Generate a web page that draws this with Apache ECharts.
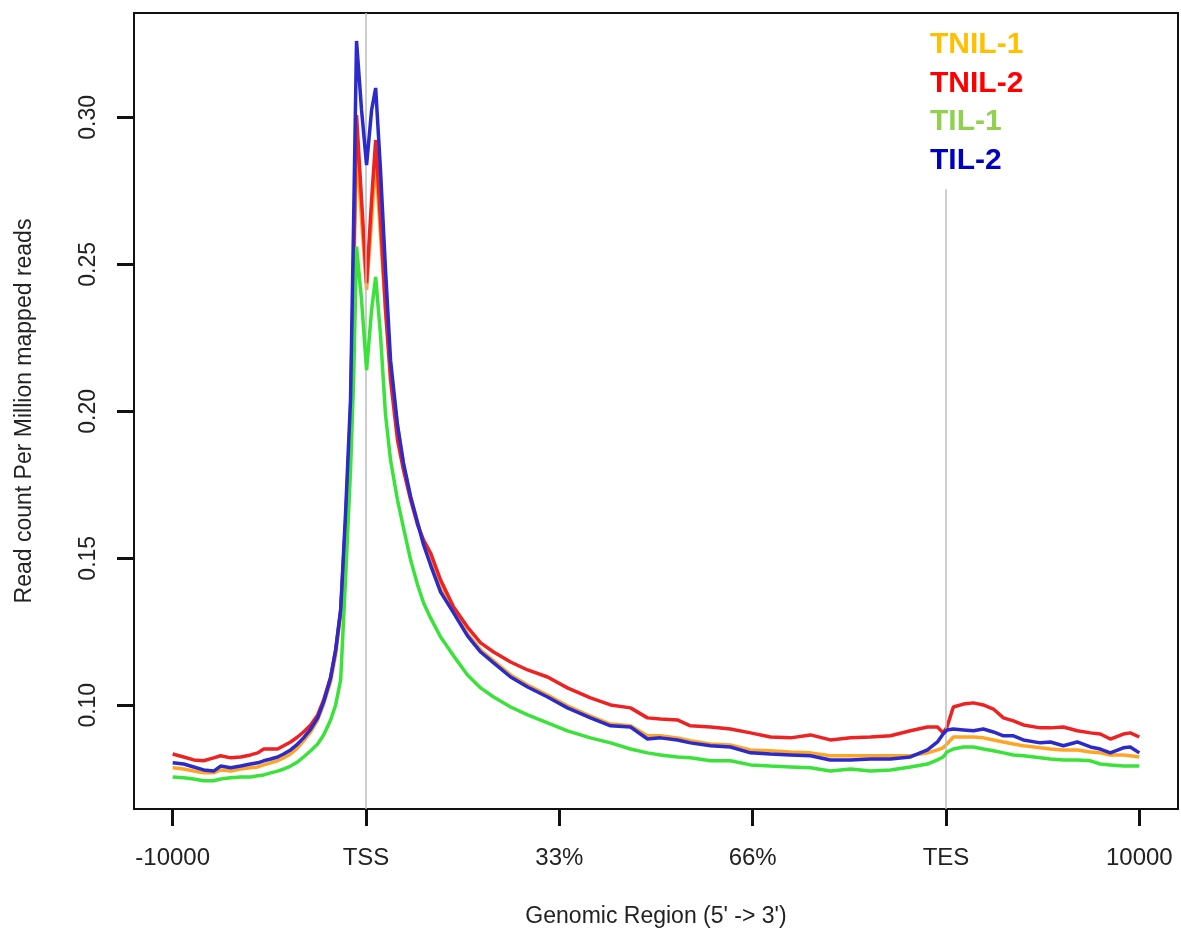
<!DOCTYPE html>
<html>
<head>
<meta charset="utf-8">
<script src="https://cdn.jsdelivr.net/npm/echarts@6/dist/echarts.min.js"></script>
<style>
html,body{margin:0;padding:0;background:#fff;}
#chart{width:1181px;height:940px;}
</style>
</head>
<body>
<div id="chart"></div>
<script>
// Genomic position: 0 = -10000, 1 = TSS, 2 = 33%, 3 = 66%, 4 = TES, 5 = 10000
const xTickPositions = [0, 1, 2, 3, 4, 5];
const xTickLabels = ['-10000', 'TSS', '33%', '66%', 'TES', '10000'];
const yTickValues = [0.10, 0.15, 0.20, 0.25, 0.30];
const seriesNames = ['TNIL-1', 'TNIL-2', 'TIL-1', 'TIL-2'];

const xs = [0, 0.057, 0.109, 0.160, 0.212, 0.248, 0.300, 0.352, 0.403, 0.440, 0.471, 0.507, 0.543, 0.574,
  0.610, 0.646, 0.677, 0.714, 0.750, 0.781, 0.817, 0.843, 0.869, 0.895, 0.920, 0.936, 0.951, 0.977, 1.003,
  1.029, 1.050, 1.075, 1.101, 1.127, 1.163, 1.194, 1.231, 1.267, 1.298, 1.334, 1.386, 1.453, 1.525, 1.593,
  1.660, 1.748, 1.836, 1.939, 2.042, 2.161, 2.265, 2.368, 2.456, 2.523, 2.611, 2.678, 2.782, 2.885, 2.989,
  3.092, 3.195, 3.299, 3.402, 3.506, 3.609, 3.713, 3.816, 3.904, 3.956, 3.985, 4.005, 4.038, 4.090, 4.142,
  4.193, 4.245, 4.297, 4.349, 4.400, 4.488, 4.540, 4.607, 4.679, 4.747, 4.798, 4.850, 4.917, 4.953, 5.0];

const tnil1 = [0.0787, 0.0783, 0.0776, 0.0770, 0.0770, 0.0780, 0.0776, 0.0783, 0.0787, 0.0790, 0.0797, 0.0804, 0.0811, 0.0821,
  0.0834, 0.0855, 0.0879, 0.0909, 0.0950, 0.1004, 0.1079, 0.1171, 0.1307, 0.1596, 0.1980, 0.2420, 0.2906, 0.2651, 0.2413,
  0.2651, 0.2855, 0.2600, 0.2345, 0.2140, 0.1953, 0.1817, 0.1709, 0.1623, 0.1552, 0.1487, 0.1399, 0.1321, 0.1243, 0.1188,
  0.1151, 0.1103, 0.1069, 0.1035, 0.0998, 0.0963, 0.0936, 0.0930, 0.0896, 0.0896, 0.0889, 0.0879, 0.0868, 0.0865, 0.0848,
  0.0845, 0.0841, 0.0838, 0.0828, 0.0828, 0.0828, 0.0828, 0.0828, 0.0838, 0.0848, 0.0855, 0.0868, 0.0892, 0.0892, 0.0892,
  0.0889, 0.0882, 0.0875, 0.0868, 0.0862, 0.0855, 0.0851, 0.0848, 0.0848, 0.0841, 0.0838, 0.0831, 0.0831, 0.0828, 0.0824];

const tnil2 = [0.0834, 0.0824, 0.0814, 0.0811, 0.0821, 0.0828, 0.0821, 0.0824, 0.0831, 0.0838, 0.0851, 0.0851, 0.0851, 0.0862,
  0.0875, 0.0892, 0.0909, 0.0933, 0.0967, 0.1018, 0.1096, 0.1188, 0.1324, 0.1630, 0.2000, 0.2500, 0.3008, 0.2719, 0.2436,
  0.2719, 0.2923, 0.2651, 0.2345, 0.2106, 0.1902, 0.1800, 0.1698, 0.1613, 0.1562, 0.1518, 0.1426, 0.1334, 0.1266, 0.1212,
  0.1181, 0.1147, 0.1120, 0.1096, 0.1059, 0.1025, 0.1001, 0.0991, 0.0957, 0.0953, 0.0950, 0.0930, 0.0926, 0.0919, 0.0906,
  0.0892, 0.0889, 0.0899, 0.0882, 0.0889, 0.0892, 0.0896, 0.0913, 0.0926, 0.0926, 0.0906, 0.0926, 0.0994, 0.1004, 0.1008,
  0.1001, 0.0987, 0.0957, 0.0947, 0.0933, 0.0923, 0.0923, 0.0926, 0.0913, 0.0906, 0.0902, 0.0885, 0.0902, 0.0906, 0.0892];

const til1 = [0.0756, 0.0753, 0.0749, 0.0743, 0.0743, 0.0749, 0.0753, 0.0756, 0.0756, 0.0760, 0.0763, 0.0770, 0.0776, 0.0783,
  0.0793, 0.0807, 0.0824, 0.0845, 0.0868, 0.0899, 0.0950, 0.1001, 0.1086, 0.1443, 0.1800, 0.2106, 0.2560, 0.2379, 0.2140,
  0.2345, 0.2457, 0.2260, 0.1988, 0.1834, 0.1698, 0.1603, 0.1494, 0.1409, 0.1348, 0.1297, 0.1232, 0.1168, 0.1103, 0.1059,
  0.1028, 0.0994, 0.0967, 0.0940, 0.0913, 0.0889, 0.0872, 0.0851, 0.0838, 0.0831, 0.0824, 0.0821, 0.0811, 0.0811, 0.0797,
  0.0793, 0.0790, 0.0787, 0.0776, 0.0783, 0.0776, 0.0780, 0.0790, 0.0800, 0.0814, 0.0824, 0.0841, 0.0851, 0.0858, 0.0858,
  0.0851, 0.0845, 0.0838, 0.0831, 0.0828, 0.0821, 0.0817, 0.0814, 0.0814, 0.0811, 0.0800, 0.0797, 0.0793, 0.0793, 0.0793];

const til2 = [0.0804, 0.0800, 0.0790, 0.0780, 0.0776, 0.0793, 0.0787, 0.0793, 0.0800, 0.0804, 0.0811, 0.0817, 0.0824, 0.0834,
  0.0848, 0.0868, 0.0889, 0.0919, 0.0957, 0.1011, 0.1093, 0.1188, 0.1324, 0.1664, 0.2040, 0.2650, 0.3260, 0.3025, 0.2838,
  0.3025, 0.3100, 0.2821, 0.2481, 0.2174, 0.1953, 0.1824, 0.1709, 0.1620, 0.1545, 0.1477, 0.1385, 0.1314, 0.1236, 0.1181,
  0.1144, 0.1096, 0.1062, 0.1028, 0.0991, 0.0957, 0.0930, 0.0926, 0.0885, 0.0889, 0.0882, 0.0872, 0.0862, 0.0858, 0.0838,
  0.0834, 0.0831, 0.0828, 0.0814, 0.0814, 0.0817, 0.0817, 0.0824, 0.0848, 0.0875, 0.0902, 0.0916, 0.0919, 0.0916, 0.0913,
  0.0919, 0.0909, 0.0896, 0.0896, 0.0882, 0.0872, 0.0875, 0.0862, 0.0875, 0.0858, 0.0851, 0.0838, 0.0855, 0.0858, 0.0838];

const lineColors = ['#FFA526', '#EE2222', '#3AE23A', '#2B2BCC'];
const legendColors = ['#FFC000', '#FF0000', '#92D050', '#0000C0'];

const X_MIN = -0.2, X_MAX = 5.2;
const Y_MIN = 0.0647, Y_MAX = 0.3355;
const TES_LINE_TOP = 0.2755;

const FONT = "'Liberation Sans', Arial, sans-serif";
const seriesData = [tnil1, tnil2, til1, til2];

const series = seriesData.map((vals, i) => ({
  name: seriesNames[i],
  type: 'line',
  data: xs.map((x, j) => [x, vals[j]]),
  showSymbol: false,
  symbol: 'none',
  lineStyle: { color: lineColors[i], width: 3.5 },
  itemStyle: { color: lineColors[i] },
  z: 3 + i,
  animation: false
}));

series[0].markLine = {
  silent: true,
  symbol: ['none', 'none'],
  label: { show: false },
  lineStyle: { color: '#BDBDBD', width: 1.5, type: 'solid' },
  animation: false,
  data: [
    [{ coord: [1, Y_MAX] }, { coord: [1, Y_MIN] }],
    [{ coord: [4, TES_LINE_TOP] }, { coord: [4, Y_MIN] }]
  ]
};

const chart = echarts.init(document.getElementById('chart'), null, { renderer: 'canvas' });
chart.setOption({
  backgroundColor: '#ffffff',
  animation: false,
  grid: {
    left: 134, right: 3, top: 13, bottom: 131,
    show: true, borderColor: '#111', borderWidth: 2, backgroundColor: 'transparent'
  },
  legend: {
    orient: 'vertical',
    left: 925,
    top: 30,
    icon: 'none',
    itemWidth: 0,
    itemHeight: 30,
    itemGap: 8.5,
    padding: 0,
    selectedMode: false,
    textStyle: { fontFamily: FONT, fontWeight: 'bold', fontSize: 30, lineHeight: 30 },
    data: seriesNames.map((n, i) => ({ name: n, textStyle: { color: legendColors[i] } }))
  },
  xAxis: {
    type: 'value',
    min: X_MIN,
    max: X_MAX,
    name: "Genomic Region (5' -> 3')",
    nameLocation: 'middle',
    nameGap: 96,
    nameTextStyle: { fontFamily: FONT, fontSize: 23, color: '#222' },
    axisLine: { show: true, onZero: false, lineStyle: { color: '#111', width: 2 } },
    axisTick: { show: true, customValues: xTickPositions, length: 17, lineStyle: { color: '#111', width: 3 } },
    axisLabel: {
      show: true,
      customValues: xTickPositions,
      formatter: (v) => xTickLabels[Math.round(v)],
      margin: 37,
      fontFamily: FONT, fontSize: 24, color: '#222'
    },
    splitLine: { show: false }
  },
  yAxis: {
    type: 'value',
    min: Y_MIN,
    max: Y_MAX,
    name: 'Read count Per Million mapped reads',
    nameLocation: 'middle',
    nameGap: 98,
    nameRotate: 90,
    nameTextStyle: { fontFamily: FONT, fontSize: 23, color: '#222' },
    axisLine: { show: true, onZero: false, lineStyle: { color: '#111', width: 2 } },
    axisTick: { show: true, customValues: yTickValues, length: 17, lineStyle: { color: '#111', width: 3 } },
    axisLabel: {
      show: true,
      customValues: yTickValues,
      formatter: (v) => v.toFixed(2),
      rotate: 90,
      margin: 34,
      fontFamily: FONT, fontSize: 23, color: '#222'
    },
    splitLine: { show: false }
  },
  series: series
});
</script>
</body>
</html>
